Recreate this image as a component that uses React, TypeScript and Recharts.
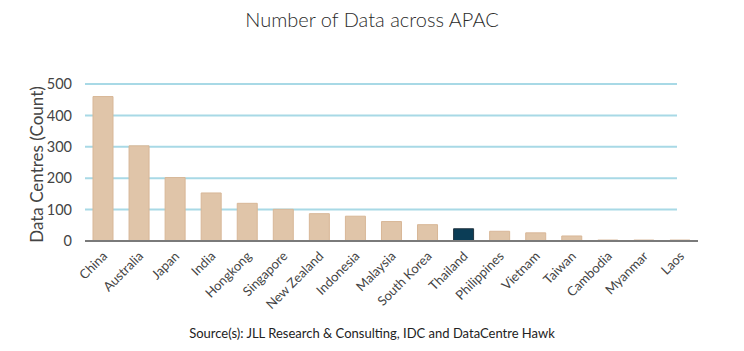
import { BarChart, Bar, XAxis, YAxis, CartesianGrid, Cell } from "recharts";

const countries = [
  "China", "Australia", "Japan", "India", "Hongkong", "Singapore", "New Zealand",
  "Indonesia", "Malaysia", "South Korea", "Thailand", "Philippines", "Vietnam",
  "Taiwan", "Cambodia", "Myanmar", "Laos",
];
const centres = [460, 303, 202, 153, 120, 101, 87, 79, 62, 52, 39, 31, 26, 16, 3, 3, 3];
const highlight = "Thailand";
const yTicks = [0, 100, 200, 300, 400, 500];

const data = countries.map((c, i) => ({ country: c, count: centres[i] }));

const FONT = "Lato, 'Open Sans', sans-serif";

function XTick({ x, y, payload }: { x?: number; y?: number; payload?: { value: string } }) {
  const tx = (x ?? 0) + 5;
  const ty = (y ?? 0) + 8;
  return (
    <text x={tx} y={ty} textAnchor="end" fontSize={13} fill="#444" fontFamily={FONT} transform={`rotate(-45 ${tx} ${ty})`}>
      {payload?.value}
    </text>
  );
}

function GridLine(props: { x1?: number; x2?: number; y1?: number }) {
  const { x1 = 0, x2 = 0, y1 = 0 } = props;
  if (y1 > 235) return <g />;
  return <line x1={x1} x2={x2 - 21} y1={y1} y2={y1} stroke="#a8d9e6" strokeWidth={2} />;
}

export default function App() {
  return (
    <div style={{ position: "fixed", top: 0, left: 0, width: 744, height: 351, background: "#fff", fontFamily: FONT }}>
      <div style={{ position: "absolute", top: 7, left: 0, width: 744, textAlign: "center", fontSize: 20, fontWeight: 300, color: "#2a2a2a" }}>
        Number of Data across APAC
      </div>
      <BarChart width={744} height={351} data={data} margin={{ top: 84, right: 46, bottom: 80, left: 0 }}>
        <CartesianGrid vertical={false} horizontal={(p: any) => <GridLine key={p.key ?? p.index} {...p} />} />
        <YAxis
          width={85}
          domain={[0, 500]}
          ticks={yTicks}
          axisLine={false}
          tickLine={false}
          tickMargin={7}
          tick={{ fontSize: 14.5, fill: "#444", fontFamily: FONT }}
          label={{ value: "Data Centres (Count)", angle: -90, position: "insideLeft", dx: 32, dy: 2, fontSize: 17, fill: "#444", fontFamily: FONT, style: { textAnchor: "middle" } }}
        />
        <XAxis
          dataKey="country"
          interval={0}
          tickLine={false}
          axisLine={{ stroke: "#7a7a7a", strokeWidth: 2 }}
          tick={<XTick />}
        />
        <Bar dataKey="count" barSize={20} isAnimationActive={false}>
          {data.map((d) => (
            <Cell
              key={d.country}
              fill={d.country === highlight ? "#0b3d56" : "#e0c5a9"}
              stroke={d.country === highlight ? "#233541" : "#d8b797"}
              strokeWidth={1}
            />
          ))}
        </Bar>
      </BarChart>
      <div style={{ position: "absolute", top: 325, left: 0, width: 744, textAlign: "center", fontSize: 13, color: "#222" }}>
        Source(s): JLL Research &amp; Consulting, IDC and DataCentre Hawk
      </div>
    </div>
  );
}
